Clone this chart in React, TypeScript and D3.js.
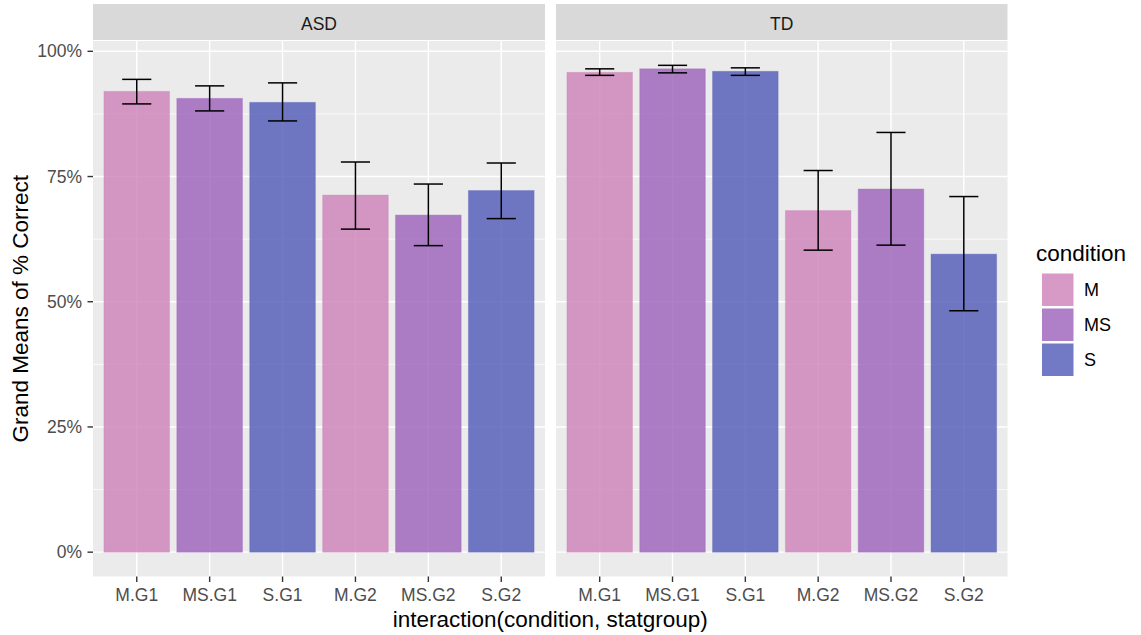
import React from "react";
import * as d3 from "d3";

const groups = ["ASD", "TD"];
const categories = ["M.G1", "MS.G1", "S.G1", "M.G2", "MS.G2", "S.G2"];
const conditions = ["M", "MS", "S"];
const barCondition = ["M", "MS", "S", "M", "MS", "S"];
const asdMeans = [0.92, 0.906, 0.898, 0.713, 0.673, 0.722];
const asdLower = [0.895, 0.881, 0.861, 0.645, 0.612, 0.666];
const asdUpper = [0.944, 0.931, 0.937, 0.779, 0.735, 0.777];
const tdMeans = [0.958, 0.965, 0.96, 0.682, 0.725, 0.595];
const tdLower = [0.952, 0.957, 0.952, 0.603, 0.613, 0.482];
const tdUpper = [0.965, 0.972, 0.967, 0.762, 0.838, 0.71];
const yTicks = [0, 0.25, 0.5, 0.75, 1];
const yMinor = [0.125, 0.375, 0.625, 0.875];

const fills: Record<string, string> = { M: "#CD80B8", MS: "#9B5FBA", S: "#5059B6" };
const FONT = "'Liberation Sans', Arial, sans-serif";

const W = 1141;
const H = 635;
const panelTop = 41;
const panelBottom = 576.5;
const stripTop = 4;
const panels = [
  { x0: 93, x1: 545 },
  { x0: 556, x1: 1007.5 },
];

export default function App() {
  const series = [
    { means: asdMeans, lower: asdLower, upper: asdUpper },
    { means: tdMeans, lower: tdLower, upper: tdUpper },
  ];
  const maxVal = d3.max(series.flatMap((s) => s.upper)) as number;
  const pad = maxVal * 0.05;
  const y = d3.scaleLinear().domain([-pad, maxVal + pad]).range([panelBottom, panelTop]);
  const fmt = d3.format(".0%");

  return (
    <svg width={W} height={H} style={{ position: "absolute", left: 0, top: 0 }} fontFamily={FONT}>
      <rect x={0} y={0} width={W} height={H} fill="#fff" />
      {groups.map((g, pi) => {
        const p = panels[pi];
        const x = d3
          .scalePoint<string>()
          .domain(categories)
          .range([p.x0, p.x1])
          .padding(0.6);
        const step = x.step();
        const bw = step * 0.9;
        const ew = step * 0.4;
        const s = series[pi];
        return (
          <g key={g}>
            {/* strip */}
            <rect x={p.x0} y={stripTop} width={p.x1 - p.x0} height={panelTop - stripTop - 1} fill="#D9D9D9" />
            <text x={(p.x0 + p.x1) / 2} y={29.5} textAnchor="middle" fontSize={17.5} fill="#1A1A1A">
              {g}
            </text>
            {/* panel */}
            <rect x={p.x0} y={panelTop} width={p.x1 - p.x0} height={panelBottom - panelTop} fill="#EBEBEB" />
            {yMinor.map((t) => (
              <line key={"mn" + t} x1={p.x0} x2={p.x1} y1={y(t)} y2={y(t)} stroke="#fff" strokeWidth={0.7} />
            ))}
            {yTicks.map((t) => (
              <line key={"mj" + t} x1={p.x0} x2={p.x1} y1={y(t)} y2={y(t)} stroke="#fff" strokeWidth={1.4} />
            ))}
            {categories.map((c) => (
              <line key={"vx" + c} x1={x(c)} x2={x(c)} y1={panelTop} y2={panelBottom} stroke="#fff" strokeWidth={1.4} />
            ))}
            {/* bars */}
            {categories.map((c, i) => (
              <rect
                key={"b" + c}
                x={(x(c) as number) - bw / 2}
                y={y(s.means[i])}
                width={bw}
                height={y(0) - y(s.means[i])}
                fill={fills[barCondition[i]]}
                fillOpacity={0.8}
                stroke={fills[barCondition[i]]}
                strokeOpacity={0.35}
                strokeWidth={1}
              />
            ))}
            {/* error bars */}
            {categories.map((c, i) => {
              const cx = x(c) as number;
              const yl = y(s.lower[i]);
              const yu = y(s.upper[i]);
              return (
                <g key={"e" + c} stroke="#000" strokeWidth={1.5}>
                  <line x1={cx} x2={cx} y1={yu} y2={yl} />
                  <line x1={cx - ew / 2} x2={cx + ew / 2} y1={yu} y2={yu} />
                  <line x1={cx - ew / 2} x2={cx + ew / 2} y1={yl} y2={yl} />
                </g>
              );
            })}
            {/* x axis */}
            {categories.map((c) => (
              <g key={"xt" + c}>
                <line x1={x(c)} x2={x(c)} y1={panelBottom} y2={panelBottom + 5.5} stroke="#333" strokeWidth={1.4} />
                <text x={x(c)} y={601} textAnchor="middle" fontSize={17.5} fill="#4D4D4D">
                  {c}
                </text>
              </g>
            ))}
          </g>
        );
      })}
      {/* y axis */}
      {yTicks.map((t) => (
        <g key={"yt" + t}>
          <line x1={87.5} x2={93} y1={y(t)} y2={y(t)} stroke="#333" strokeWidth={1.4} />
          <text x={82} y={y(t) + 6} textAnchor="end" fontSize={17.5} fill="#4D4D4D">
            {fmt(t)}
          </text>
        </g>
      ))}
      <text
        transform={`translate(28, ${(panelTop + panelBottom) / 2}) rotate(-90)`}
        textAnchor="middle"
        fontSize={22.5}
        fill="#000"
      >
        Grand Means of % Correct
      </text>
      <text x={(panels[0].x0 + panels[1].x1) / 2} y={627} textAnchor="middle" fontSize={22.5} fill="#000">
        interaction(condition, statgroup)
      </text>
      {/* legend */}
      <text x={1036} y={261} fontSize={22.5} fill="#000">
        condition
      </text>
      {conditions.map((c, i) => (
        <g key={"lg" + c}>
          <rect x={1042} y={273.5 + i * 35} width={31.5} height={32.5} fill={fills[c]} fillOpacity={0.8} />
          <text x={1084} y={296 + i * 35} fontSize={18} fill="#000">
            {c}
          </text>
        </g>
      ))}
    </svg>
  );
}
